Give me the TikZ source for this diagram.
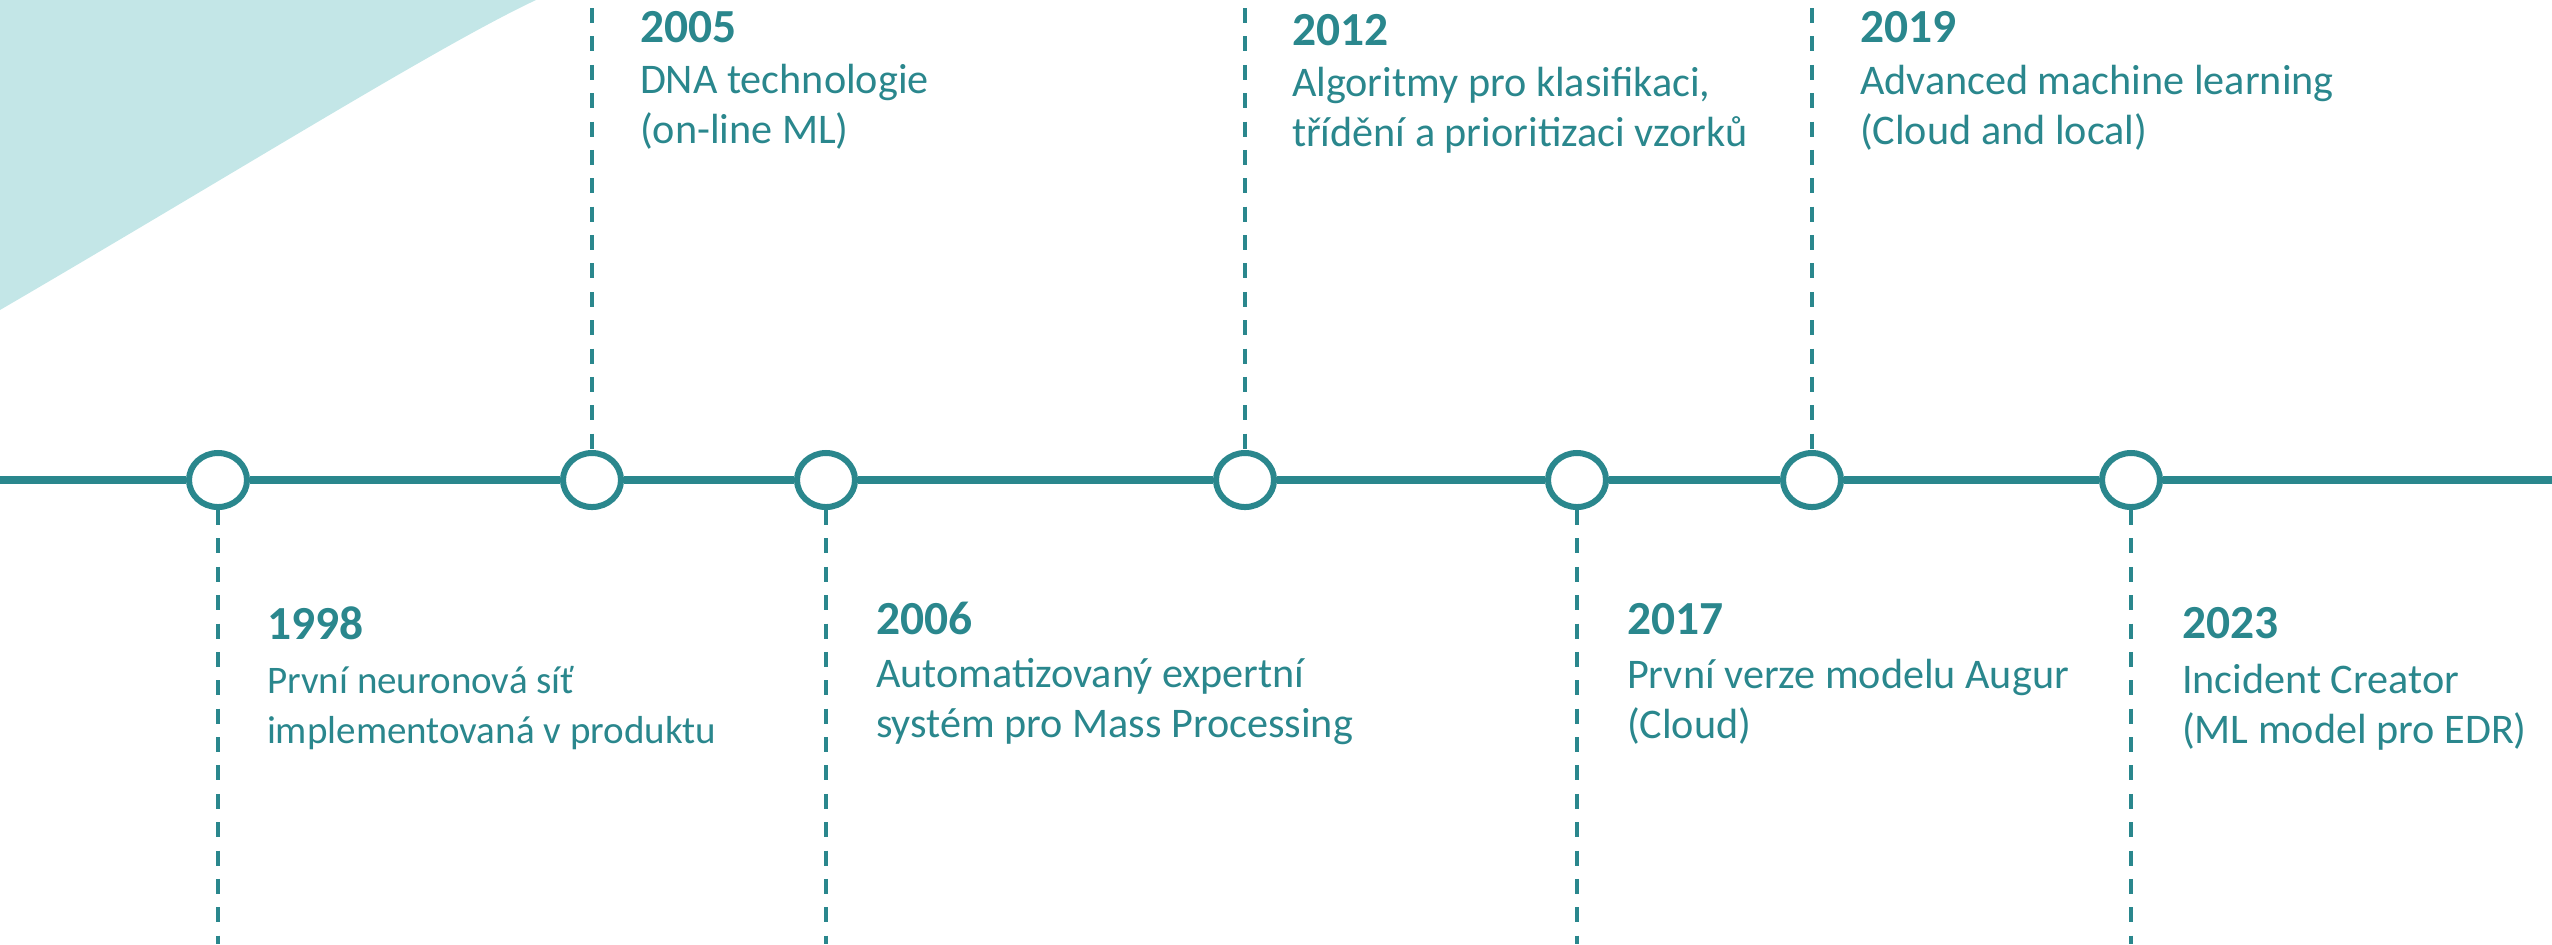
\documentclass[tikz,border=0pt]{standalone}
\usepackage{fontspec}
\setmainfont{Carlito}
\usetikzlibrary{shapes.geometric}
\definecolor{teal}{HTML}{2A878D}
\definecolor{paleteal}{HTML}{C3E6E7}
\begin{document}
\begin{tikzpicture}[x=0.01cm,y=-0.01cm,
  axis/.style={draw=teal,line width=2.28pt},
  milestone/.style={ellipse,draw=teal,fill=white,line width=1.71pt,
    minimum width=0.58cm,minimum height=0.54cm,inner sep=0pt},
  stem/.style={draw=teal,line width=1.14pt,dash pattern=on 4.27pt off 3.8pt},
  yearlabel/.style={anchor=base west,inner sep=0pt,outer sep=0pt,text=teal,
    font=\fontsize{13.5}{15}\selectfont\bfseries},
  desclabel/.style={anchor=base west,inner sep=0pt,outer sep=0pt,text=teal,
    align=left,font=\fontsize{12}{14.2}\selectfont}]
\useasboundingbox (0,0) rectangle (2552,944);

% decorative wedge in the upper left corner
\fill[paleteal] (0,0) -- (536,0) .. controls (440,45) and (240,170) .. (0,310)
  -- cycle;

% timeline axis ends
\coordinate (L) at (0,480);
\coordinate (R) at (2552,480);

% milestones on the axis
\node[milestone] (c1998) at (218,480) {};
\node[milestone] (c2005) at (592,480) {};
\node[milestone] (c2006) at (826,480) {};
\node[milestone] (c2012) at (1245,480) {};
\node[milestone] (c2017) at (1577,480) {};
\node[milestone] (c2019) at (1812,480) {};
\node[milestone] (c2023) at (2131,480) {};

% stem end points
\coordinate (t2005) at (592,8);
\coordinate (t2012) at (1245,8);
\coordinate (t2019) at (1812,8);
\coordinate (b1998) at (218,944);
\coordinate (b2006) at (826,944);
\coordinate (b2017) at (1577,944);
\coordinate (b2023) at (2131,944);

% dashed stems
\path[stem] (t2005) -- (c2005.north);
\path[stem] (t2012) -- (c2012.north);
\path[stem] (t2019) -- (c2019.north);
\path[stem] (c1998.south) -- (b1998);
\path[stem] (c2006.south) -- (b2006);
\path[stem] (c2017.south) -- (b2017);
\path[stem] (c2023.south) -- (b2023);

% axis segments between milestones
\path[axis] (L) -- (c1998) (c1998) -- (c2005) (c2005) -- (c2006)
  (c2006) -- (c2012) (c2012) -- (c2017) (c2017) -- (c2019)
  (c2019) -- (c2023) (c2023) -- (R);

% labels above the axis (description anchored on its last line)
\node[yearlabel] (y2005) at (640,42) {2005};
\node[desclabel] (d2005) at (640,143.5) {DNA technologie\\(on-line ML)};
\node[yearlabel] (y2012) at (1292,45) {2012};
\node[desclabel] (d2012) at (1292,146.5) {Algoritmy pro klasifikaci,\\třídění a prioritizaci vzorků};
\node[yearlabel] (y2019) at (1860,42) {2019};
\node[desclabel] (d2019) at (1860,144) {Advanced machine learning\\(Cloud and local)};

% labels below the axis
\node[yearlabel] (y1998) at (267,639) {1998};
\node[desclabel,font=\fontsize{11.1}{14.2}\selectfont] (d1998) at (267,743.5)
  {První neuronová síť\\implementovaná v produktu};
\node[yearlabel] (y2006) at (876,634) {2006};
\node[desclabel] (d2006) at (876,737.5) {Automatizovaný expertní\\systém pro Mass Processing};
\node[yearlabel] (y2017) at (1627,634) {2017};
\node[desclabel] (d2017) at (1627,738) {První verze modelu Augur\\(Cloud)};
\node[yearlabel] (y2023) at (2182,638) {2023};
\node[desclabel] (d2023) at (2182,743) {Incident Creator\\(ML model pro EDR)};
\end{tikzpicture}
\end{document}
